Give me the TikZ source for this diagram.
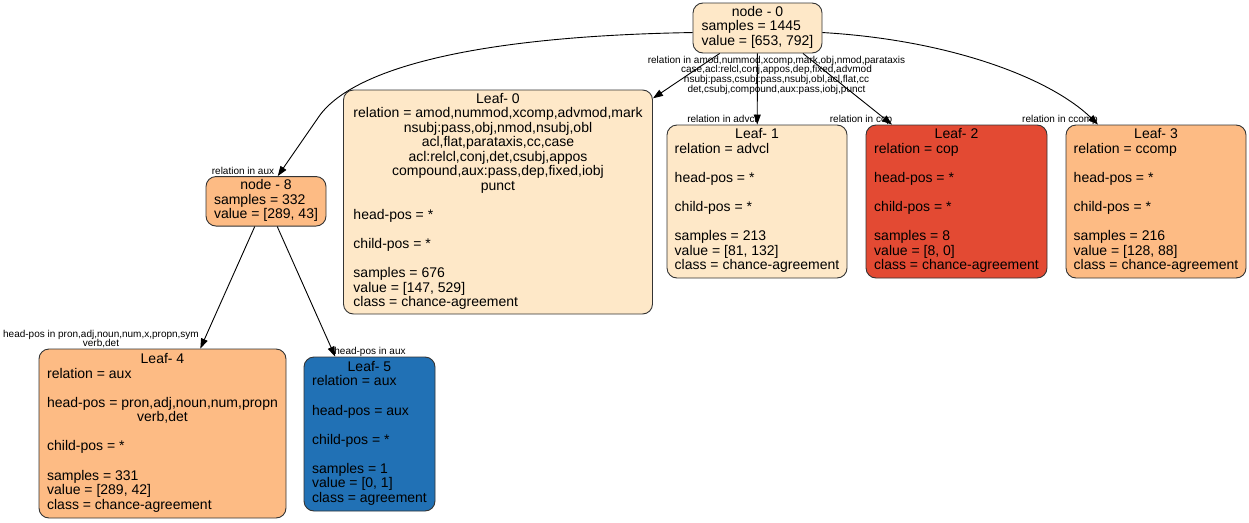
\documentclass[tikz,border=0pt]{standalone}
\usepackage{fontspec}
\setmainfont{Liberation Sans}
\usetikzlibrary{arrows.meta}

\definecolor{orrdlight}{HTML}{FEE8C8}
\definecolor{orrdmid}{HTML}{FDBB84}
\definecolor{orrddark}{HTML}{E34A33}
\definecolor{bluesdark}{HTML}{2171B5}

\newcommand{\ctrline}[1]{\multicolumn{1}{@{}c@{}}{#1}}

\tikzset{
  box/.style={draw=black!80, line width=0.9pt, rounded corners=10pt, inner sep=0pt,
    font=\fontsize{14}{14.55}\selectfont},
  edge/.style={-{Triangle[length=10pt,width=7pt]}, line width=0.9pt},
  elabel/.style={font=\fontsize{10}{9.67}\selectfont, inner sep=0pt, align=center}
}

\begin{document}
\begin{tikzpicture}[x=1pt,y=-1pt]
  \useasboundingbox (0,0) rectangle (1249,522);

  % split nodes
  \node[box, fill=orrdlight, minimum width=129pt, minimum height=50pt] (n0) at (757.5,28) {\begin{tabular}{@{}l@{}}
    \ctrline{node - 0}\\
    samples = 1445\\
    value = [653, 792]
  \end{tabular}};
  \node[box, fill=orrdmid, minimum width=120pt, minimum height=49.5pt] (n8) at (266,201.3) {\begin{tabular}{@{}l@{}}
    \ctrline{node - 8}\\
    samples = 332\\
    value = [289, 43]
  \end{tabular}};

  % leaves
  \node[box, fill=orrdlight, minimum width=309pt, minimum height=224pt] (l0) at (498,202) {\begin{tabular}{@{}l@{}}
    \ctrline{Leaf- 0}\\
    relation = amod,nummod,xcomp,advmod,mark\\
    \ctrline{nsubj:pass,obj,nmod,nsubj,obl}\\
    \ctrline{acl,flat,parataxis,cc,case}\\
    \ctrline{acl:relcl,conj,det,csubj,appos}\\
    \ctrline{compound,aux:pass,dep,fixed,iobj}\\
    \ctrline{punct}\\
    \\
    head-pos = *\\
    \\
    child-pos = *\\
    \\
    samples = 676\\
    value = [147, 529]\\
    class = chance-agreement
  \end{tabular}};
  \node[box, fill=orrdlight, minimum width=180pt, minimum height=153pt] (l1) at (757,201.5) {\begin{tabular}{@{}l@{}}
    \ctrline{Leaf- 1}\\
    relation = advcl\\
    \\
    head-pos = *\\
    \\
    child-pos = *\\
    \\
    samples = 213\\
    value = [81, 132]\\
    class = chance-agreement
  \end{tabular}};
  \node[box, fill=orrddark, minimum width=181pt, minimum height=153pt] (l2) at (956.5,201.5) {\begin{tabular}{@{}l@{}}
    \ctrline{Leaf- 2}\\
    relation = cop\\
    \\
    head-pos = *\\
    \\
    child-pos = *\\
    \\
    samples = 8\\
    value = [8, 0]\\
    class = chance-agreement
  \end{tabular}};
  \node[box, fill=orrdmid, minimum width=180pt, minimum height=153pt] (l3) at (1156,201.5) {\begin{tabular}{@{}l@{}}
    \ctrline{Leaf- 3}\\
    relation = ccomp\\
    \\
    head-pos = *\\
    \\
    child-pos = *\\
    \\
    samples = 216\\
    value = [128, 88]\\
    class = chance-agreement
  \end{tabular}};
  \node[box, fill=orrdmid, minimum width=247pt, minimum height=169pt] (l4) at (162.5,433.5) {\begin{tabular}{@{}l@{}}
    \ctrline{Leaf- 4}\\
    relation = aux\\
    \\
    head-pos = pron,adj,noun,num,propn\\
    \ctrline{verb,det}\\
    \\
    child-pos = *\\
    \\
    samples = 331\\
    value = [289, 42]\\
    class = chance-agreement
  \end{tabular}};
  \node[box, fill=bluesdark, minimum width=131pt, minimum height=154pt] (l5) at (369.5,434) {\begin{tabular}{@{}l@{}}
    \ctrline{Leaf- 5}\\
    relation = aux\\
    \\
    head-pos = aux\\
    \\
    child-pos = *\\
    \\
    samples = 1\\
    value = [0, 1]\\
    class = agreement
  \end{tabular}};

  % edges
  \draw[edge] (n0.184) .. controls (480,36) and (356,67) .. (320,115) -- (n8.65);
  \draw[edge] (n0) -- (l0);
  \draw[edge] (n0) -- (l1);
  \draw[edge] ([xshift=45.5pt]n0.south) -- ([xshift=-64.5pt]l2.north);
  \draw[edge] (n0.356) .. controls (950,40) and (1050,78) .. (l3.127);
  \draw[edge] (n8) -- (l4);
  \draw[edge] (n8) -- (l5);

  % edge labels
  \node[elabel, anchor=base] (lbl8) at (243,174) {relation in aux};
  \node[elabel] (lbl0) at (776.5,75) {relation in amod,nummod,xcomp,mark,obj,nmod,parataxis\\
    case,acl:relcl,conj,appos,dep,fixed,advmod\\
    nsubj:pass,csubj:pass,nsubj,obl,acl,flat,cc\\
    det,csubj,compound,aux:pass,iobj,punct};
  \node[elabel, anchor=base] (lbl1) at (722,122) {relation in advcl};
  \node[elabel, anchor=base] (lbl2) at (861,122) {relation in cop};
  \node[elabel, anchor=base] (lbl3) at (1060,122) {relation in ccomp};
  \node[elabel] (lbl4) at (101,339) {head-pos in pron,adj,noun,num,x,propn,sym\\verb,det};
  \node[elabel, anchor=base] (lbl5) at (370,354) {head-pos in aux};
\end{tikzpicture}
\end{document}
